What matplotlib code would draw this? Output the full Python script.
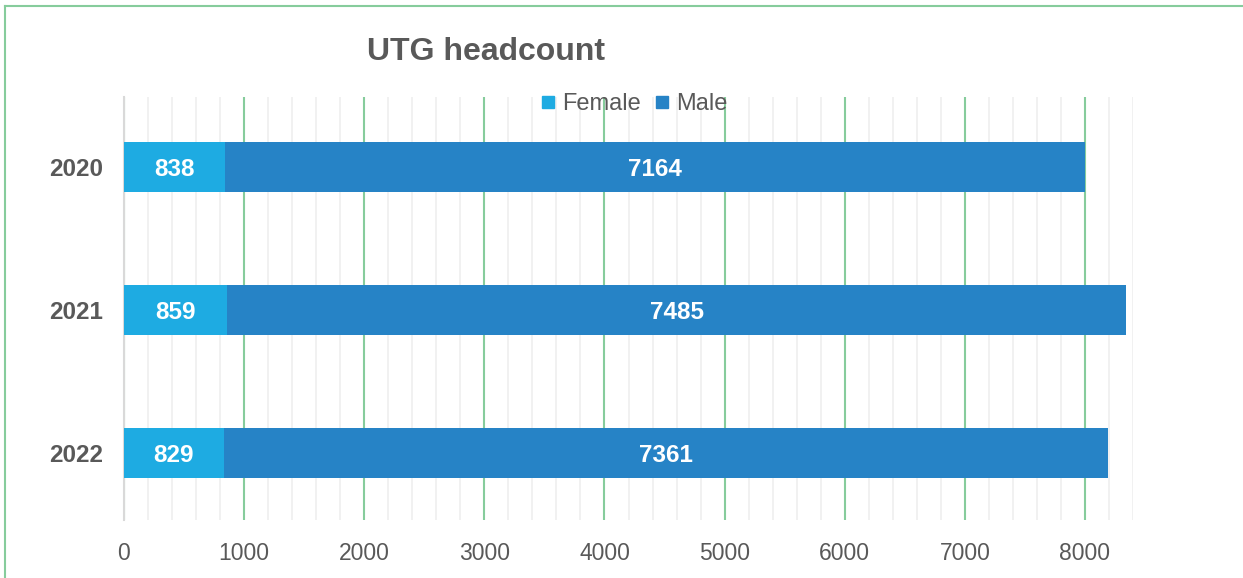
import matplotlib.pyplot as plt
from matplotlib.lines import Line2D
from matplotlib.ticker import MultipleLocator
import numpy as np

plt.rcParams['font.family'] = ['Liberation Sans', 'DejaVu Sans']

# data
years = ["2020", "2021", "2022"]
female = [838, 859, 829]
male = [7164, 7485, 7361]

c_female = "#1eabe2"
c_male = "#2683c6"
c_text = "#595959"
c_green = "#86cc9c"

fig = plt.figure(figsize=(12.43, 5.78), dpi=100)
ax = fig.add_axes([124 / 1243, 1 - 520 / 578, (1133 - 124) / 1243, (520 - 97) / 578])

y = np.arange(len(years))
ax.barh(y, female, height=0.35, color=c_female, zorder=3, label="Female")
ax.barh(y, male, left=female, height=0.35, color=c_male, zorder=3, label="Male")

for i in range(len(years)):
    ax.text(female[i] / 2, y[i], str(female[i]), ha="center", va="center_baseline",
            color="white", fontsize=17.5, fontweight="bold", zorder=4)
    ax.text(female[i] + male[i] / 2, y[i], str(male[i]), ha="center", va="center_baseline",
            color="white", fontsize=17.5, fontweight="bold", zorder=4)

ax.set_xlim(0, 8400)
ax.set_ylim(2.47, -0.49)
ax.set_yticks(y)
ax.set_yticklabels(years, fontsize=17.5, fontweight="bold", color=c_text)
ax.xaxis.set_major_locator(MultipleLocator(1000))
ax.xaxis.set_minor_locator(MultipleLocator(200))
ax.set_xticks(np.arange(0, 8001, 1000))
ax.tick_params(axis="x", which="both", length=0, labelsize=16.5, labelcolor=c_text, pad=16)
ax.tick_params(axis="y", length=0, pad=15)

ax.grid(axis="x", which="minor", color="#f0f0f0", linewidth=1.3, zorder=0)
ax.grid(axis="x", which="major", color=c_green, linewidth=1.5, zorder=1)
for s in ["top", "right", "bottom"]:
    ax.spines[s].set_visible(False)
ax.spines["left"].set_color("#d9d9d9")
ax.spines["left"].set_linewidth(1.5)

fig.text(486 / 1243, 1 - 49 / 578, "UTG headcount", ha="center", va="center_baseline",
         fontsize=23, fontweight="bold", color=c_text)

handles = [Line2D([], [], marker="s", linestyle="none", markersize=9, color=c_female),
           Line2D([], [], marker="s", linestyle="none", markersize=9, color=c_male)]
leg = fig.legend(handles, ["Female", "Male"], loc="center",
                 bbox_to_anchor=(634 / 1243, 1 - 104 / 578), ncol=2, frameon=False,
                 fontsize=17, handlelength=0.6, handletextpad=0.3, columnspacing=0.6,
                 borderaxespad=0)
for t in leg.get_texts():
    t.set_color(c_text)

# outer frame (left and top edges visible)
fig.add_artist(Line2D([5 / 1243, 5 / 1243], [0, 1 - 6 / 578], transform=fig.transFigure,
                      color=c_green, linewidth=1.5))
fig.add_artist(Line2D([5 / 1243, 1], [1 - 6 / 578, 1 - 6 / 578], transform=fig.transFigure,
                      color=c_green, linewidth=1.5))

fig.savefig("out.png", dpi=100)
